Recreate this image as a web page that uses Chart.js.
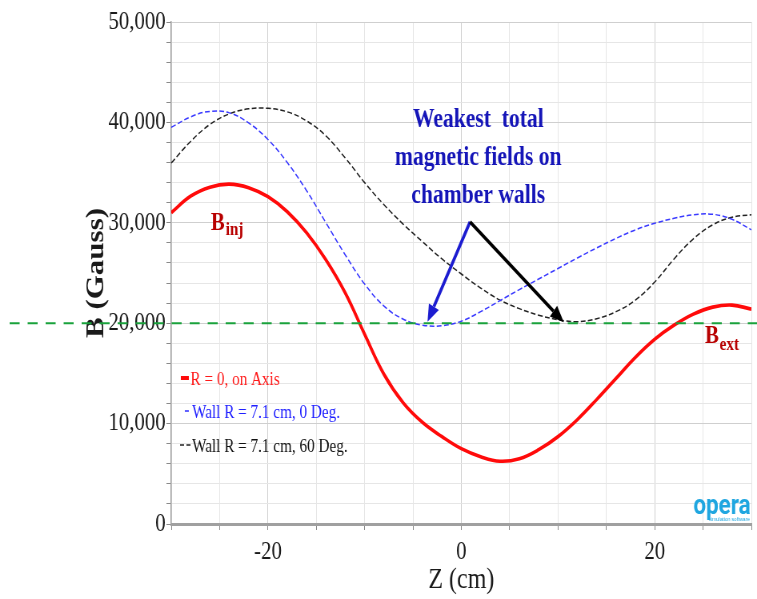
<!DOCTYPE html>
<html>
<head>
<meta charset="utf-8">
<script src="https://cdn.jsdelivr.net/npm/chart.js@4.4.1/dist/chart.umd.min.js"></script>
<style>
  html, body { margin: 0; padding: 0; background: #ffffff; }
  canvas { display: block; }
</style>
</head>
<body>
<!-- drawn on a wider backing canvas and shown condensed to 757px -->
<canvas id="chart" width="946" height="599" style="width:757px;height:599px"></canvas>
<script>
// Field magnitude B along the chamber axis Z
const zPositions = [-30, -28, -26, -24, -22, -20, -18, -16, -14, -12, -10, -8, -6, -4, -2, 0,
                    2, 4, 6, 8, 10, 12, 14, 16, 18, 20, 22, 24, 26, 28, 30];

const axisField = [31000, 32650, 33550, 33850, 33500, 32600, 31100, 29000, 26300, 23000, 18900,
                   14900, 12050, 10100, 8700, 7500, 6700, 6250, 6500, 7400, 8700, 10400, 12400,
                   14500, 16600, 18400, 19800, 20900, 21600, 21800, 21400];

const wallField0 = [39500, 40550, 41100, 40950, 39950, 38300, 36000, 33200, 30000, 26800, 23900,
                    21700, 20400, 19800, 19750, 20200, 21150, 22250, 23350, 24400, 25450, 26500,
                    27500, 28450, 29300, 29950, 30450, 30800, 30850, 30350, 29300];

const wallField60 = [35950, 38100, 39800, 40850, 41350, 41400, 41050, 40150, 38650, 36450, 34000,
                     31800, 29850, 28100, 26400, 24900, 23500, 22300, 21450, 20800, 20350, 20150,
                     20450, 21150, 22300, 24100, 26400, 28400, 29800, 30550, 30800];

const seriesLabels = ['R = 0, on Axis', 'Wall R = 7.1 cm, 0 Deg.', 'Wall R = 7.1 cm, 60 Deg.'];
const zTickLabels = [-20, 0, 20];
const bTickLabels = [0, 10000, 20000, 30000, 40000, 50000];
const referenceField = 20000;
const noteLines = ['Weakest  total', 'magnetic fields on', 'chamber walls'];

const SERIF = "'Liberation Serif', 'Times New Roman', serif";

function toPoints(values) {
  return zPositions.map((z, i) => ({ x: z, y: values[i] }));
}

function pix(chart, x, y) {
  return [chart.scales.x.getPixelForValue(x), chart.scales.y.getPixelForValue(y)];
}

function drawArrow(ctx, x0, y0, x1, y1, color) {
  const a = Math.atan2(y1 - y0, x1 - x0);
  const len = 17, half = 7;
  const bx = x1 - len * Math.cos(a), by = y1 - len * Math.sin(a);
  ctx.strokeStyle = color;
  ctx.fillStyle = color;
  ctx.lineWidth = 3.6;
  ctx.setLineDash([]);
  ctx.beginPath();
  ctx.moveTo(x0, y0);
  ctx.lineTo(bx, by);
  ctx.stroke();
  ctx.beginPath();
  ctx.moveTo(x1, y1);
  ctx.lineTo(bx + half * Math.sin(a), by - half * Math.cos(a));
  ctx.lineTo(bx - half * Math.sin(a), by + half * Math.cos(a));
  ctx.closePath();
  ctx.fill();
}

function drawSubscripted(ctx, x, y, main, sub, color, drop) {
  ctx.fillStyle = color;
  ctx.textAlign = 'left';
  ctx.textBaseline = 'alphabetic';
  ctx.font = 'bold 26px ' + SERIF;
  ctx.fillText(main, x, y);
  const w = ctx.measureText(main).width;
  ctx.font = 'bold 19px ' + SERIF;
  ctx.fillText(sub, x + w + 1, y + drop);
}

const overlay = {
  id: 'overlay',
  afterDatasetsDraw(chart) {
    const ctx = chart.ctx;
    const area = chart.chartArea;
    ctx.save();

    // 20 kG reference level, across the full width
    const yRef = chart.scales.y.getPixelForValue(referenceField);
    ctx.strokeStyle = '#1aa23c';
    ctx.lineWidth = 2;
    ctx.setLineDash([12.5, 10]);
    ctx.beginPath();
    ctx.moveTo(12, yRef);
    ctx.lineTo(chart.width, yRef);
    ctx.stroke();

    // arrows to the wall minima
    const [sx, sy] = pix(chart, 0.9, 30100);
    const [bx, by] = pix(chart, -3.5, 20150);
    const [kx, ky] = pix(chart, 10.6, 20100);
    drawArrow(ctx, sx, sy, bx, by, '#1c1cd0');
    drawArrow(ctx, sx, sy, kx, ky, '#000000');

    // note text
    ctx.fillStyle = '#1515b8';
    ctx.font = 'bold 27px ' + SERIF;
    ctx.textAlign = 'center';
    ctx.textBaseline = 'alphabetic';
    const noteBase = [39540, 35760, 31970];
    noteLines.forEach((t, i) => {
      const [nx, ny] = pix(chart, 1.75, noteBase[i]);
      ctx.fillText(t, nx, ny);
    });

    // injection / extraction labels
    const [ix, iy] = pix(chart, -25.9, 29280);
    drawSubscripted(ctx, ix, iy, 'B', 'inj', '#b80000', 5);
    const [ex, ey] = pix(chart, 25.2, 18030);
    drawSubscripted(ctx, ex, ey, 'B', 'ext', '#b80000', 7);

    // legend inside the plot
    const ds = chart.data.datasets;
    const rows = [385, 418, 452];
    ctx.font = '19px ' + SERIF;
    ctx.textAlign = 'left';
    ds.forEach((d, i) => {
      const yb = rows[i];
      const ym = yb - 7;
      ctx.strokeStyle = d.borderColor;
      ctx.lineWidth = i === 0 ? 4 : 1.6;
      ctx.setLineDash(i === 2 ? [5, 3] : []);
      ctx.beginPath();
      if (i === 0) { ctx.moveTo(area.left + 12, ym); ctx.lineTo(area.left + 22, ym); }
      else if (i === 1) { ctx.moveTo(area.left + 17, ym); ctx.lineTo(area.left + 22, ym); }
      else { ctx.moveTo(area.left + 11, ym); ctx.lineTo(area.left + 24, ym); }
      ctx.stroke();
      ctx.setLineDash([]);
      ctx.fillStyle = d.legendTextColor;
      ctx.fillText(d.label, area.left + (i === 0 ? 24 : 26), yb);
    });

    // software mark
    ctx.fillStyle = '#1fa6e0';
    ctx.textAlign = 'right';
    ctx.font = "bold 28px Roboto, 'Liberation Sans', sans-serif";
    ctx.fillText('opera', area.right - 1, area.bottom - 10);
    ctx.font = "6px 'Liberation Sans', sans-serif";
    ctx.fillText('simulation software', area.right - 2, area.bottom - 3);

    ctx.restore();
  }
};

new Chart(document.getElementById('chart'), {
  type: 'line',
  data: {
    datasets: [
      {
        label: seriesLabels[0],
        data: toPoints(axisField),
        borderColor: '#ff0a0a',
        legendTextColor: '#ff1a1a',
        borderWidth: 3.6,
        pointRadius: 0,
        tension: 0.4
      },
      {
        label: seriesLabels[1],
        data: toPoints(wallField0),
        borderColor: '#3a3aff',
        legendTextColor: '#2020ff',
        borderWidth: 1.5,
        borderDash: [6, 3],
        pointRadius: 0,
        tension: 0.4
      },
      {
        label: seriesLabels[2],
        data: toPoints(wallField60),
        borderColor: '#222222',
        legendTextColor: '#111111',
        borderWidth: 1.5,
        borderDash: [6, 3],
        pointRadius: 0,
        tension: 0.4
      }
    ]
  },
  options: {
    responsive: false,
    devicePixelRatio: 1,
    animation: false,
    layout: { padding: { top: 22, right: 0, bottom: 0, left: 0 } },
    plugins: {
      legend: { display: false },
      tooltip: { enabled: false }
    },
    scales: {
      x: {
        type: 'linear',
        min: -30,
        max: 30,
        afterFit: (s) => { s.height = 75; },
        ticks: {
          stepSize: 5,
          autoSkip: false,
          maxRotation: 0,
          padding: 7,
          color: '#1a1a1a',
          font: { family: SERIF, size: 26 },
          callback: (v) => (zTickLabels.includes(v) ? String(v) : '')
        },
        grid: {
          color: (c) => (c.tick && zTickLabels.includes(c.tick.value) ? '#cfcfcf' : '#e6e6e6'),
          tickColor: '#8a8a8a',
          tickLength: 6,
          lineWidth: 1
        },
        border: { color: '#a0a0a0', width: 3 },
        title: {
          display: true,
          text: 'Z (cm)',
          color: '#1a1a1a',
          font: { family: SERIF, size: 30 },
          padding: { top: 0, bottom: 1 }
        }
      },
      y: {
        min: 0,
        max: 50000,
        afterFit: (s) => { s.width = 214; },
        ticks: {
          stepSize: 2000,
          autoSkip: false,
          padding: 1,
          color: '#1a1a1a',
          font: { family: SERIF, size: 26 },
          callback: (v) => (bTickLabels.includes(v) ? v.toLocaleString('en-US') : '')
        },
        grid: {
          color: (c) => (c.tick && bTickLabels.includes(c.tick.value) ? '#cfcfcf' : '#e6e6e6'),
          tickColor: '#8a8a8a',
          tickLength: 6,
          lineWidth: 1
        },
        border: { color: '#a0a0a0', width: 1.5 },
        title: {
          display: true,
          text: 'B (Gauss)',
          color: '#1a1a1a',
          font: { family: SERIF, size: 31, weight: 'bold' },
          padding: { top: 102, bottom: 0 }
        }
      }
    }
  },
  plugins: [overlay]
});
</script>
</body>
</html>
